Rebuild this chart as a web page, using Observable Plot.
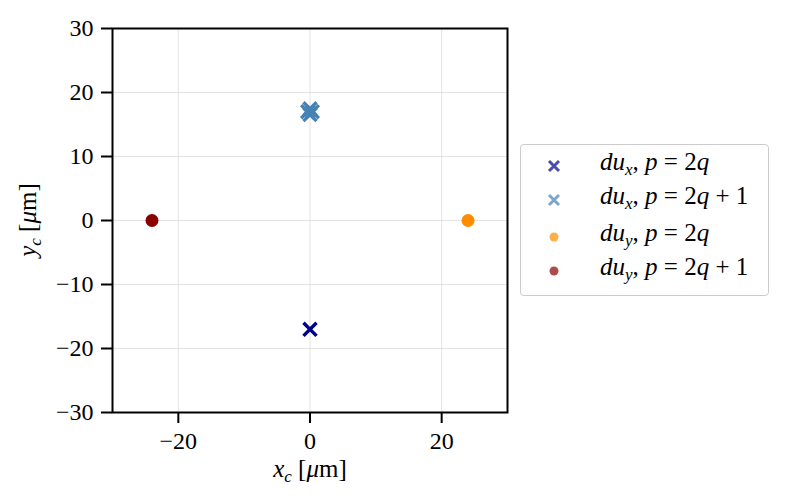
<!DOCTYPE html>
<html>
<head>
<meta charset="utf-8">
<script src="https://cdn.jsdelivr.net/npm/d3@7"></script>
<script src="https://cdn.jsdelivr.net/npm/@observablehq/plot@0.6"></script>
<style>
  html, body { margin: 0; padding: 0; background: #fff; }
  #wrap { position: relative; width: 785px; height: 504px; font-family: "Liberation Serif", "DejaVu Serif", serif; }
  #legend { position: absolute; left: 520px; top: 144px; width: 249px; height: 152px; border: 1px solid #cccccc; border-radius: 4px; background: #fff; box-sizing: border-box; }
  .row { position: absolute; left: 0; height: 30px; width: 100%; font-size: 25px; }
  .row svg { position: absolute; left: 25px; top: 10px; }
  .row .lab { position: absolute; left: 79px; top: 0px; font-style: italic; white-space: nowrap; }
  .row sub { font-size: 17px; vertical-align: -5px; line-height: 0; }
  .up { font-style: normal; }
</style>
</head>
<body>
<div id="wrap"></div>
<script>
// Series definitions
const seriesNames = ["du_x, p=2q", "du_x, p=2q+1", "du_y, p=2q", "du_y, p=2q+1"];
const seriesColors = ["#00008b", "#4682b4", "#ff8c00", "#8b0000"];
const seriesSymbols = ["times", "times", "circle", "circle"];

// Point values (x_c, y_c in µm)
const duxEvenX = [0];
const duxEvenY = [-17];
const duxOddX = [-0.35, 0.35, 0, 0];
const duxOddY = [17, 17, 17.45, 16.55];
const duyEvenX = [24];
const duyEvenY = [0];
const duyOddX = [-24];
const duyOddY = [0];

const xTicks = [-20, 0, 20];
const yTicks = [-30, -20, -10, 0, 10, 20, 30];

const toRows = (xs, ys, k) => xs.map((x, i) => ({x, y: ys[i], s: seriesNames[k]}));
const crossEven = toRows(duxEvenX, duxEvenY, 0);
const crossOdd = toRows(duxOddX, duxOddY, 1);
const dotEven = toRows(duyEvenX, duyEvenY, 2);
const dotOdd = toRows(duyOddX, duyOddY, 3);

const font = "Liberation Serif, DejaVu Serif, serif";

const plot = Plot.plot({
  width: 785,
  height: 504,
  marginLeft: 112,
  marginRight: 278,
  marginTop: 28,
  marginBottom: 92,
  style: {fontFamily: font, fontSize: "24px", background: "#fff", color: "#000"},
  x: {domain: [-30, 30], label: null},
  y: {domain: [-30, 30], label: null},
  marks: [
    Plot.gridX(xTicks, {stroke: "#dcdcdc", strokeOpacity: 1, strokeWidth: 0.8}),
    Plot.gridY([-20, -10, 0, 10, 20], {stroke: "#dcdcdc", strokeOpacity: 1, strokeWidth: 0.8}),
    Plot.axisX(xTicks, {tickSize: 11, tickPadding: 8, strokeWidth: 2, fontSize: 24, fontFamily: font, label: null}),
    Plot.axisY(yTicks, {tickSize: 11, tickPadding: 8, strokeWidth: 2, fontSize: 24, fontFamily: font, label: null}),
    Plot.dot(crossEven, {x: "x", y: "y", symbol: seriesSymbols[0], stroke: seriesColors[0], r: 6, strokeWidth: 3.4}),
    Plot.dot(crossOdd, {x: "x", y: "y", symbol: seriesSymbols[1], stroke: seriesColors[1], r: 6, strokeWidth: 3.4}),
    Plot.dot(dotEven, {x: "x", y: "y", symbol: seriesSymbols[2], fill: seriesColors[2], r: 6.5}),
    Plot.dot(dotOdd, {x: "x", y: "y", symbol: seriesSymbols[3], fill: seriesColors[3], r: 6.5}),
    Plot.frame({stroke: "#000", strokeWidth: 2})
  ]
});

const wrap = document.getElementById("wrap");
wrap.appendChild(plot);

// Axis labels with subscripts
const svg = d3.select(plot);
function axisLabel(sel, letter) {
  sel.style("font-family", font).style("font-size", "25px");
  sel.append("tspan").attr("font-style", "italic").text(letter);
  sel.append("tspan").attr("font-style", "italic").attr("font-size", "17px").attr("dy", 5).text("c");
  sel.append("tspan").attr("dy", -5).text(" [");
  sel.append("tspan").attr("font-style", "italic").text("μ");
  sel.append("tspan").text("m]");
}
axisLabel(svg.append("text").attr("x", 310).attr("y", 477).attr("text-anchor", "middle"), "x");
axisLabel(svg.append("text").attr("transform", "translate(36,220) rotate(-90)").attr("text-anchor", "middle"), "y");

// Legend
const legend = document.createElement("div");
legend.id = "legend";
wrap.appendChild(legend);
const labelsHtml = [
  'du<sub>x</sub><span class="up">, </span>p <span class="up">= 2</span>q',
  'du<sub>x</sub><span class="up">, </span>p <span class="up">= 2</span>q <span class="up">+ 1</span>',
  'du<sub>y</sub><span class="up">, </span>p <span class="up">= 2</span>q',
  'du<sub>y</sub><span class="up">, </span>p <span class="up">= 2</span>q <span class="up">+ 1</span>'
];
const rowTops = [3, 37, 74, 108];
seriesNames.forEach((name, i) => {
  const row = document.createElement("div");
  row.className = "row";
  row.style.top = rowTops[i] + "px";
  const c = seriesColors[i];
  const marker = seriesSymbols[i] === "times"
    ? `<svg width="16" height="16"><path d="M3,3L13,13M13,3L3,13" stroke="${c}" stroke-opacity="0.7" stroke-width="3"/></svg>`
    : `<svg width="16" height="16"><circle cx="8" cy="8" r="4.5" fill="${c}" fill-opacity="0.7"/></svg>`;
  row.innerHTML = marker + `<span class="lab">${labelsHtml[i]}</span>`;
  legend.appendChild(row);
});
</script>
</body>
</html>
